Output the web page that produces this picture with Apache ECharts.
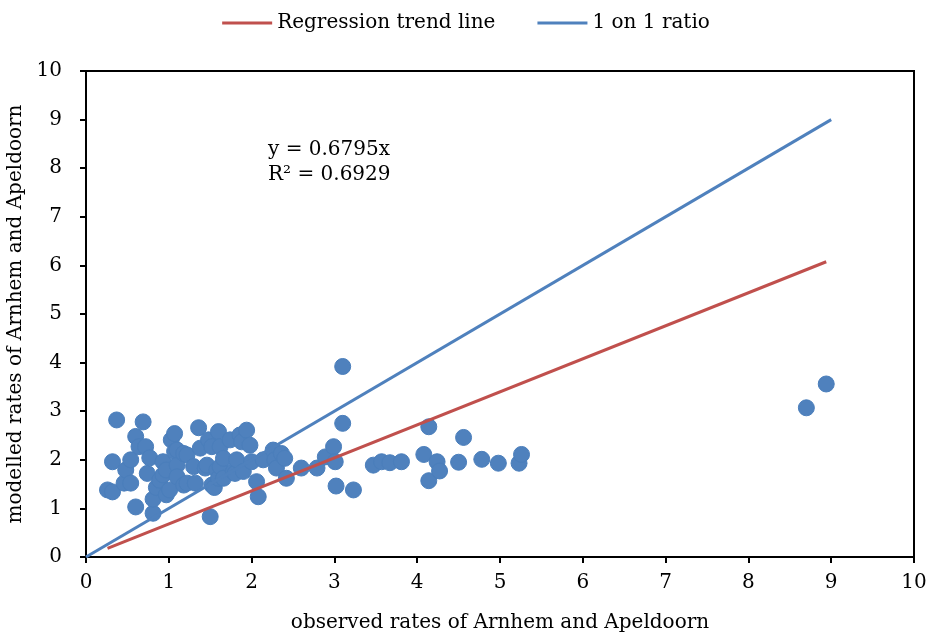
<!DOCTYPE html>
<html>
<head>
<meta charset="utf-8">
<script src="https://cdn.jsdelivr.net/npm/echarts@6/dist/echarts.min.js"></script>
<style>
html,body{margin:0;padding:0;background:#fff;}
#main{width:932px;height:637px;}
</style>
</head>
<body>
<div id="main"></div>
<script>
// observed (x) vs modelled (y) rates
var observed = [0.26,0.32,0.32,0.37,0.46,0.48,0.54,0.54,0.60,0.60,0.64,0.69,0.72,0.74,0.77,0.81,0.81,0.85,0.89,0.93,
	0.93,0.97,0.97,1.01,1.03,1.07,1.07,1.10,1.10,1.10,1.18,1.18,1.22,1.22,1.30,1.32,1.36,1.38,1.44,1.46,
	1.48,1.50,1.52,1.52,1.55,1.58,1.60,1.60,1.62,1.62,1.66,1.66,1.74,1.78,1.80,1.82,1.86,1.88,1.90,1.94,
	1.98,2.00,2.06,2.08,2.14,2.26,2.28,2.30,2.36,2.40,2.42,2.60,2.79,2.89,2.99,3.01,3.02,3.10,3.10,3.23,
	3.47,3.57,3.67,3.81,4.08,4.14,4.14,4.24,4.27,4.50,4.56,4.78,4.98,5.23,5.26,8.70,8.94];
var modelled = [1.38,1.34,1.96,2.82,1.52,1.79,1.52,2.00,1.03,2.48,2.27,2.78,2.27,1.72,2.04,0.90,1.19,1.43,1.58,1.96,
	1.69,1.28,1.79,1.38,2.41,2.54,2.17,1.89,1.65,2.20,1.48,2.13,2.10,1.52,1.86,1.52,2.66,2.24,1.83,1.89,
	2.41,0.83,1.48,2.27,1.43,1.79,2.58,1.62,2.27,1.86,2.03,1.62,2.41,1.76,1.72,2.00,2.51,2.37,1.76,2.61,
	2.30,1.96,1.55,1.24,2.00,2.20,2.00,1.83,2.13,2.03,1.62,1.83,1.83,2.06,2.27,1.96,1.46,3.92,2.75,1.38,
	1.89,1.96,1.94,1.96,2.11,2.68,1.57,1.96,1.77,1.95,2.46,2.01,1.93,1.93,2.11,3.07,3.56];
var slope = 0.6795;
var rSquared = 0.6929;
var ratioLine = [[0,0],[9,9]];

var points = [];
for(var i=0;i<observed.length;i++){
	points.push([observed[i],modelled[i]]);
}
var xMin = Math.min.apply(null,observed);
var xMax = Math.max.apply(null,observed);
var trendLine = [[xMin,slope*xMin],[xMax,slope*xMax]];

var font = 'DejaVu Serif';
var chart = echarts.init(document.getElementById('main'));
var option = {
	animation:false,
	textStyle:{fontFamily:font,color:'#000'},
	legend:{
		top:8,
		left:'center',
		itemWidth:50,
		itemHeight:3,
		itemGap:42,
		textStyle:{fontFamily:font,fontSize:20,color:'#000'},
		data:[
			{name:'Regression trend line',icon:'rect'},
			{name:'1 on 1 ratio',icon:'rect'}
		]
	},
	grid:{left:86,right:18,top:71,bottom:80,show:true,borderColor:'#000',borderWidth:2,
		containLabel:false,outerBoundsMode:'none'},
	xAxis:{
		type:'value',min:0,max:10,interval:1,
		name:'observed rates of Arnhem and Apeldoorn',
		nameLocation:'middle',nameGap:56,
		nameTextStyle:{fontFamily:font,fontSize:20,color:'#000'},
		axisLine:{show:true,lineStyle:{color:'#000',width:2}},
		axisTick:{show:true,length:6,lineStyle:{color:'#000',width:2}},
		axisLabel:{fontFamily:font,fontSize:20,color:'#000',margin:16},
		splitLine:{show:false}
	},
	yAxis:{
		type:'value',min:0,max:10,interval:1,
		name:'modelled rates of Arnhem and Apeldoorn',
		nameLocation:'middle',nameGap:58,
		nameTextStyle:{fontFamily:font,fontSize:20,color:'#000'},
		axisLine:{show:true,lineStyle:{color:'#000',width:2}},
		axisTick:{show:true,length:6,lineStyle:{color:'#000',width:2}},
		axisLabel:{fontFamily:font,fontSize:20,color:'#000',margin:24},
		splitLine:{show:false}
	},
	graphic:[
		{type:'text',left:268,top:140,style:{text:'y = '+slope+'x',font:'20px "DejaVu Serif"',fill:'#000'}},
		{type:'text',left:268,top:165,style:{text:'R² = '+rSquared.toFixed(4),font:'20px "DejaVu Serif"',fill:'#000'}}
	],
	series:[
		{
			name:'points',type:'scatter',data:points,symbolSize:16,z:3,
			itemStyle:{color:'#4F81BD',borderColor:'#4A7EBB',borderWidth:1,opacity:1}
		},
		{
			name:'Regression trend line',type:'line',data:trendLine,showSymbol:false,symbol:'none',z:4,
			lineStyle:{color:'#C0504D',width:3},itemStyle:{color:'#C0504D'}
		},
		{
			name:'1 on 1 ratio',type:'line',data:ratioLine,showSymbol:false,symbol:'none',z:4,
			lineStyle:{color:'#4F81BD',width:3},itemStyle:{color:'#4F81BD'}
		}
	]
};
chart.setOption(option);
</script>
</body>
</html>
